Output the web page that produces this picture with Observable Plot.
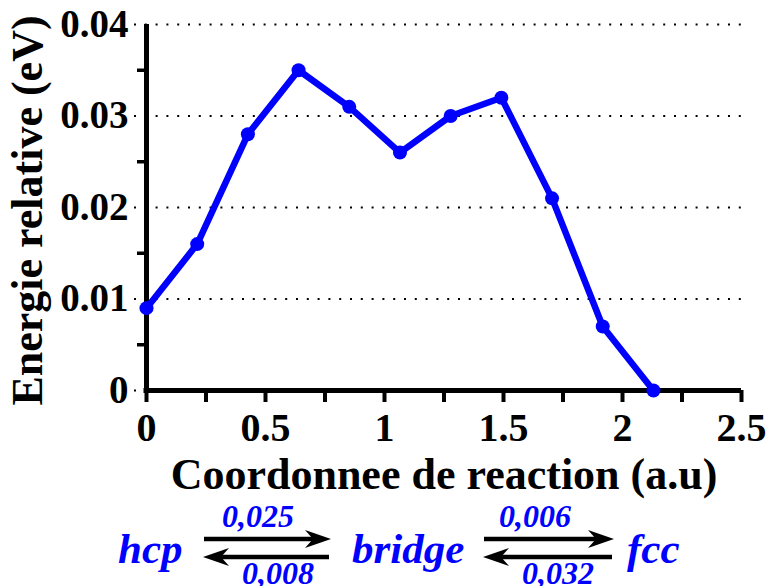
<!DOCTYPE html>
<html>
<head>
<meta charset="utf-8">
<script src="https://cdn.jsdelivr.net/npm/d3@7"></script>
<script src="https://cdn.jsdelivr.net/npm/@observablehq/plot@0.6"></script>
<style>
  html, body { margin: 0; padding: 0; background: white; }
  #wrap { width: 772px; height: 586px; overflow: hidden; }
  svg { display: block; }
</style>
</head>
<body>
<div id="wrap"></div>
<script>
// Data
const reactionCoord = [0, 0.213, 0.426, 0.639, 0.852, 1.065, 1.278, 1.491, 1.704, 1.917, 2.13];
const relEnergy = [0.009, 0.016, 0.028, 0.035, 0.031, 0.026, 0.030, 0.032, 0.021, 0.007, 0.0];

const xTicks = [0, 0.5, 1, 1.5, 2, 2.5];
const xTickLabels = ["0", "0.5", "1", "1.5", "2", "2.5"];
const xMinorTicks = [0.25, 0.75, 1.25, 1.75, 2.25];
const yTicks = [0, 0.01, 0.02, 0.03, 0.04];
const yTickLabels = ["0", "0.01", "0.02", "0.03", "0.04"];
const yMinorTicks = [0.005, 0.015, 0.025, 0.035];

const xLabel = "Coordonnee de reaction (a.u)";
const yLabel = "Energie relative (eV)";

// Reaction scheme (caption)
const states = ["hcp", "bridge", "fcc"];
const forwardBarriers = ["0,025", "0,006"];
const backwardBarriers = ["0,008", "0,032"];

const points = reactionCoord.map((x, i) => ({x, e: relEnergy[i]}));

const serif = "'Liberation Serif', 'Times New Roman', Times, serif";
const blue = "#0000ff";

const chart = Plot.plot({
  width: 772,
  height: 495,
  marginLeft: 146,
  marginRight: 31,
  marginTop: 24,
  marginBottom: 105,
  style: {fontFamily: serif, fontWeight: "bold", background: "white", color: "black", overflow: "visible"},
  x: {domain: [0, 2.5]},
  y: {domain: [0, 0.04]},
  marks: [
    Plot.gridY(yTicks, {stroke: "black", strokeOpacity: 1, strokeWidth: 2, strokeDasharray: "2,8.8", insetLeft: -12}),
    Plot.axisY(yMinorTicks, {tickSize: 9, strokeWidth: 3.5, tickFormat: () => "", label: null}),
    Plot.axisY(yTicks, {tickSize: 0, tickPadding: 18, fontSize: 39, tickFormat: d => yTickLabels[yTicks.indexOf(d)], label: null}),
    Plot.axisX([...xTicks, ...xMinorTicks], {tickSize: 12, strokeWidth: 4, tickFormat: () => "", label: null}),
    Plot.axisX(xTicks, {tickSize: 0, tickPadding: 22, fontSize: 40, tickFormat: d => xTickLabels[xTicks.indexOf(d)], label: null}),
    Plot.ruleX([0], {stroke: "black", strokeWidth: 5}),
    Plot.ruleY([0], {stroke: "black", strokeWidth: 5, insetLeft: -2.5}),
    Plot.line(points, {x: "x", y: "e", stroke: blue, strokeWidth: 6.5, strokeLinejoin: "round"}),
    Plot.dot(points, {x: "x", y: "e", r: 7, fill: blue, stroke: "none"}),
    Plot.text([xLabel], {text: d => d, frameAnchor: "bottom", textAnchor: "middle", lineAnchor: "bottom", dy: 98, fontSize: 44}),
    Plot.text([yLabel], {text: d => d, frameAnchor: "left", textAnchor: "middle", lineAnchor: "bottom", rotate: -90, dx: -105, dy: 3, fontSize: 44})
  ]
});
document.getElementById("wrap").appendChild(chart);

// Caption: reaction scheme hcp <=> bridge <=> fcc
const cap = d3.select("#wrap").append("svg")
  .attr("width", 772).attr("height", 91)
  .style("font-family", serif).style("font-weight", "bold").style("font-style", "italic");

const off = 10;
const stateX = [118, 352, 627];
states.forEach((s, i) => {
  cap.append("text").attr("x", stateX[i]).attr("y", 58 + off)
    .attr("font-size", 43).attr("fill", blue).text(s);
});

const arrowSpans = [[204, 331], [484, 614]];
function arrow(g, x1, x2, y, dir) {
  const tip = dir > 0 ? x2 : x1;
  const tail = dir > 0 ? x1 : x2;
  const back = tip - dir * 26;
  g.append("line").attr("x1", tail).attr("x2", back + dir * 8).attr("y1", y).attr("y2", y)
    .attr("stroke", "black").attr("stroke-width", 4.5);
  g.append("path")
    .attr("d", `M${tip},${y} L${back},${y - 9} L${back + dir * 8},${y} L${back},${y + 9} Z`)
    .attr("fill", "black");
}
arrowSpans.forEach(([a, b], i) => {
  arrow(cap, a, b, 34 + off, 1);
  arrow(cap, a - 1, b - 2, 52 + off, -1);
  cap.append("text").attr("x", a + 52 - i * 3 + 2).attr("y", 22 + off).attr("text-anchor", "middle")
    .attr("font-size", 32).attr("fill", blue).text(forwardBarriers[i]);
  cap.append("text").attr("x", a + 74).attr("y", 79 + off).attr("text-anchor", "middle")
    .attr("font-size", 32).attr("fill", blue).text(backwardBarriers[i]);
});
</script>
</body>
</html>
